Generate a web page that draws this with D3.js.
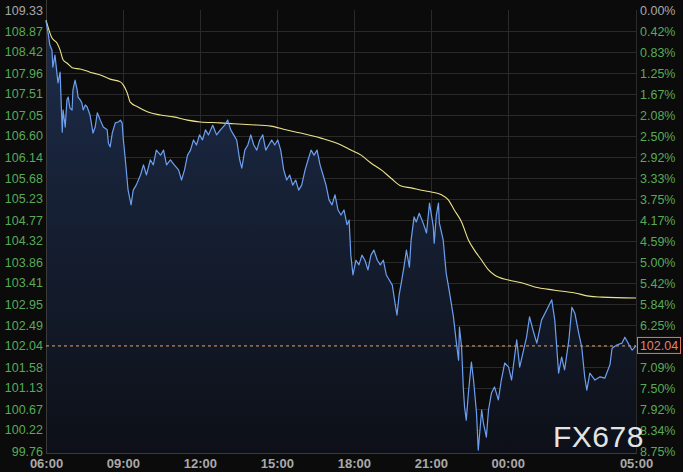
<!DOCTYPE html>
<html>
<head>
<meta charset="utf-8">
<script src="https://cdn.jsdelivr.net/npm/d3@7/dist/d3.min.js"></script>
<style>
html,body{margin:0;padding:0;background:#0b0b0b;}
svg{display:block;}
</style>
</head>
<body>
<svg id="chart" width="683" height="472"></svg>
<script>
// ---- data ----
const priceTicks = [109.33,108.87,108.42,107.96,107.51,107.05,106.60,106.14,105.68,105.23,104.77,104.32,103.86,103.41,102.95,102.49,102.04,101.58,101.13,100.67,100.22,99.76];
const pctTicks = ["0.00%","0.42%","0.83%","1.25%","1.67%","2.08%","2.50%","2.92%","3.33%","3.75%","4.17%","4.59%","5.00%","5.42%","5.84%","6.25%","6.67%","7.09%","7.50%","7.92%","8.34%","8.75%"];
const timeTickMinutes = [0,180,360,540,720,900,1080,1380];
const timeTickLabels = ["06:00","09:00","12:00","15:00","18:00","21:00","00:00","05:00"];
const lastPrice = 102.04;
const watermark = "FX678";

// minutes after 06:00
const priceMinutes = [0,5,9,14,16,21,28,33,38,40,45,49,52,56,61,63,68,73,75,80,84,87,92,96,103,110,115,120,127,134,143,146,150,155,162,169,174,178,181,185,192,199,204,211,221,228,235,244,251,258,268,275,282,291,300,310,317,324,331,338,345,352,359,366,373,380,390,399,408,418,425,432,439,446,453,458,465,472,479,486,493,500,507,514,521,528,535,542,549,556,563,570,577,584,591,598,606,613,620,627,634,641,648,655,662,669,676,683,690,697,704,709,713,718,725,732,739,746,753,760,767,775,782,789,796,803,810,817,821,826,831,838,843,850,854,861,866,873,882,890,897,906,908,913,918,920,929,936,944,953,960,965,967,972,976,979,983,988,995,1000,1007,1011,1019,1023,1030,1035,1042,1049,1058,1065,1073,1082,1089,1101,1108,1117,1124,1131,1141,1148,1159,1171,1183,1190,1199,1206,1213,1223,1230,1237,1246,1253,1260,1265,1272,1284,1296,1307,1319,1324,1335,1347,1354,1364,1371,1380];
const priceValues = [109.09,108.83,108.57,108.46,108.09,108.35,107.75,107.98,106.68,107.16,106.79,107.38,107.44,107.20,107.16,107.59,107.81,107.59,107.44,107.38,107.31,107.16,107.27,107.23,107.05,106.66,106.79,107.10,106.94,106.79,106.73,106.44,106.36,106.66,106.88,106.90,106.94,106.88,106.51,106.14,105.42,105.10,105.42,105.53,105.75,105.97,105.75,106.08,105.97,106.29,106.18,106.29,105.97,106.08,105.97,105.86,105.64,105.86,106.18,106.29,106.51,106.40,106.62,106.51,106.73,106.62,106.83,106.62,106.73,106.83,106.94,106.73,106.62,106.51,106.08,105.90,106.29,106.40,106.62,106.40,106.29,106.51,106.62,106.29,106.40,106.51,106.40,106.51,106.29,105.86,105.64,105.75,105.53,105.64,105.42,105.53,105.86,106.08,106.29,106.18,106.29,105.97,105.75,105.53,105.21,105.10,105.32,104.99,104.88,104.99,104.67,104.77,104.01,103.58,103.90,103.80,104.01,103.90,103.69,104.01,104.12,103.90,103.80,103.90,103.58,103.47,103.36,102.93,102.71,103.15,103.41,103.80,104.12,103.75,104.34,104.84,104.73,104.92,104.71,104.49,105.14,104.62,104.27,104.88,105.14,104.71,104.34,103.62,103.19,102.67,102.10,101.73,102.45,102.02,101.15,100.71,100.43,101.02,101.69,101.30,100.58,99.78,100.65,100.37,100.06,100.65,101.02,101.15,100.87,101.30,101.67,101.58,101.30,102.17,101.58,101.95,102.23,102.67,102.32,102.10,102.60,102.82,103.04,102.60,101.45,101.80,101.52,102.17,102.88,102.75,102.32,102.02,101.37,101.08,101.45,101.30,101.37,101.34,101.63,101.99,102.06,102.10,102.23,102.06,101.95,102.04];

const avgMinutes = [0,14,26,33,40,49,63,80,103,127,150,174,181,190,197,214,237,268,298,331,361,408,439,479,526,561,596,643,690,713,737,760,784,807,831,854,878,901,925,941,955,972,988,1002,1019,1035,1049,1082,1112,1143,1190,1237,1270,1300,1380];
const avgValues = [109.11,108.72,108.61,108.46,108.25,108.18,108.07,108.05,107.98,107.92,107.83,107.77,107.70,107.53,107.33,107.23,107.12,107.05,107.01,106.94,106.90,106.88,106.86,106.84,106.81,106.73,106.66,106.55,106.40,106.29,106.18,106.01,105.86,105.68,105.51,105.47,105.42,105.38,105.32,105.21,104.99,104.73,104.34,104.12,103.90,103.69,103.58,103.47,103.41,103.32,103.25,103.19,103.12,103.10,103.08];

// ---- layout ----
const L = 46, R = 636, T = 10, B = 451, AXISY = 453;
const svg = d3.select("#chart");
svg.append("rect").attr("width",683).attr("height",472).attr("fill","#0b0b0b");

const x = d3.scaleLinear().domain([0,1380]).range([L,R]);
const y = d3.scaleLinear().domain([99.76,109.33]).range([B,T]);

const defs = svg.append("defs");
const grad = defs.append("linearGradient").attr("id","areaGrad")
  .attr("gradientUnits","userSpaceOnUse").attr("x1",0).attr("x2",0).attr("y1",T).attr("y2",B);
grad.append("stop").attr("offset","0").attr("stop-color","#1d2d4b");
grad.append("stop").attr("offset","1").attr("stop-color","#0d1018");

// horizontal gridlines (via axis)
const gridY = svg.append("g").attr("transform",`translate(${L},0)`)
  .call(d3.axisRight(y).tickValues(priceTicks.slice(1,-1)).tickSize(R+1-L).tickFormat(""));
gridY.select(".domain").remove();
gridY.selectAll("line").attr("stroke","#2a2a2a").attr("stroke-width",1).attr("shape-rendering","crispEdges");

// vertical gridlines
const gridX = svg.append("g").attr("transform",`translate(0,${T})`)
  .call(d3.axisBottom(x).tickValues(timeTickMinutes.slice(1)).tickSize(AXISY-T).tickFormat(""));
gridX.select(".domain").remove();
gridX.selectAll("line").attr("stroke","#2a2a2a").attr("stroke-width",1).attr("shape-rendering","crispEdges");

const priceData = priceMinutes.map((m,i)=>({m, v: priceValues[i]}));
const avgData = avgMinutes.map((m,i)=>({m, v: avgValues[i]}));

// area under price
svg.append("path").datum(priceData)
  .attr("d", d3.area().x(d=>x(d.m)).y0(AXISY).y1(d=>y(d.v)))
  .attr("fill","url(#areaGrad)");

// axis frame lines
svg.append("line").attr("x1",L).attr("x2",L).attr("y1",0).attr("y2",AXISY)
  .attr("stroke","#3a3a3a").attr("shape-rendering","crispEdges");
svg.append("line").attr("x1",L).attr("x2",R+1).attr("y1",AXISY).attr("y2",AXISY)
  .attr("stroke","#3a3a3a").attr("shape-rendering","crispEdges");

// last price dashed line
svg.append("line").attr("x1",L).attr("x2",R).attr("y1",y(lastPrice)).attr("y2",y(lastPrice))
  .attr("stroke","#e6a66a").attr("stroke-width",1).attr("stroke-dasharray","3,3");

// average line
svg.append("path").datum(avgData)
  .attr("d", d3.line().x(d=>x(d.m)).y(d=>y(d.v)).curve(d3.curveMonotoneX))
  .attr("fill","none").attr("stroke","#ece38a").attr("stroke-width",1.1);

// price line
svg.append("path").datum(priceData)
  .attr("d", d3.line().x(d=>x(d.m)).y(d=>y(d.v)))
  .attr("fill","none").attr("stroke","#6d9ff0").attr("stroke-width",1.2).attr("stroke-linejoin","round");

// left axis labels
const leftAx = svg.append("g").attr("transform",`translate(${L},0)`)
  .call(d3.axisLeft(y).tickValues(priceTicks).tickSize(0).tickPadding(3).tickFormat(d3.format(".2f")));
leftAx.select(".domain").remove();
leftAx.selectAll("text").attr("font-family","Liberation Sans, Arial, sans-serif").attr("font-size","12.5px")
  .attr("fill",(d,i)=> i===0 ? "#a8a8a8" : "#58aa58");

// right axis labels
const yPct = d3.scalePoint().domain(pctTicks).range([T,B]);
const rightAx = svg.append("g").attr("transform",`translate(${R+1},0)`)
  .call(d3.axisRight(yPct).tickSize(0).tickPadding(3));
rightAx.select(".domain").remove();
rightAx.selectAll("text").attr("font-family","Liberation Sans, Arial, sans-serif").attr("font-size","12.5px")
  .attr("fill",(d,i)=> i===0 ? "#a8a8a8" : "#58aa58");

// bottom time labels
const bottomAx = svg.append("g").attr("transform",`translate(0,${AXISY})`)
  .call(d3.axisBottom(x).tickValues(timeTickMinutes).tickSize(0).tickPadding(6)
    .tickFormat((d,i)=>timeTickLabels[i]));
bottomAx.select(".domain").remove();
bottomAx.selectAll("text").attr("font-family","Liberation Sans Narrow, Liberation Sans, Arial, sans-serif")
  .attr("font-size","13px").attr("font-weight","bold").attr("fill","#a9a9a9");

// last price box
const ly = y(lastPrice);
svg.append("rect").attr("x",R+1.5).attr("y",ly-8.5).attr("width",43).attr("height",16)
  .attr("fill","#0b0b0b").attr("stroke","#d97a68").attr("stroke-width",1);
svg.append("text").attr("x",R+23).attr("y",ly).attr("dy","0.35em").attr("text-anchor","middle")
  .attr("font-family","Liberation Sans, Arial, sans-serif").attr("font-size","12.5px").attr("fill","#e0826e")
  .text(lastPrice.toFixed(2));

// watermark
svg.append("text").attr("x",553).attr("y",447)
  .attr("font-family","Liberation Sans, Arial, sans-serif").attr("font-size","30px")
  .attr("letter-spacing","0.5px").attr("fill","#e4e4e4").text(watermark);
</script>
</body>
</html>
